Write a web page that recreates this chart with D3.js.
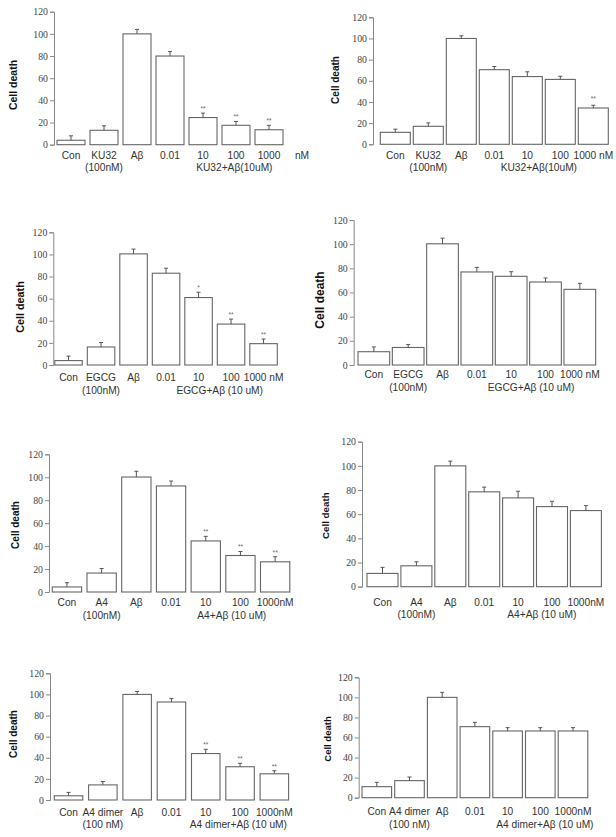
<!DOCTYPE html>
<html>
<head>
<meta charset="utf-8">
<script src="https://cdn.jsdelivr.net/npm/d3@7"></script>
<style>
  html, body { margin: 0; padding: 0; background: #fff; }
  svg { display: block; }
</style>
</head>
<body>
<svg id="chart" width="616" height="837"></svg>
<script>
// ---------- DATA ----------
const yTicks = [0, 20, 40, 60, 80, 100, 120];

const labelsKU1 = ["Con", "KU32", "Aβ", "0.01", "10", "100", "1000", "nM"];
const labelsKU2 = ["Con", "KU32", "Aβ", "0.01", "10", "100", "1000 nM"];
const labelsEGCG = ["Con", "EGCG", "Aβ", "0.01", "10", "100", "1000 nM"];
const labelsA4 = ["Con", "A4", "Aβ", "0.01", "10", "100", "1000nM"];
const labelsA4d = ["Con", "A4 dimer", "Aβ", "0.01", "10", "100", "1000nM"];

const subLabels = ["(100nM)", "(100nM)", "(100nM)", "(100nM)", "(100nM)", "(100nM)", "(100 nM)", "(100 nM)"];
const groupLabels = ["KU32+Aβ(10uM)", "KU32+Aβ(10uM)", "EGCG+Aβ (10 uM)", "EGCG+Aβ (10 uM)",
                     "A4+Aβ (10 uM)", "A4+Aβ (10 uM)", "A4 dimer+Aβ (10 uM)", "A4 dimer+Aβ (10 uM)"];

const values1 = [4, 13, 100, 80, 24.5, 17.5, 13.5];
const errors1 = [4, 4, 4, 4, 4, 3.5, 4];
const stars1  = ["", "", "", "", "**", "**", "**"];

const values2 = [11.3, 17, 100, 70.5, 64, 61.3, 34.3];
const errors2 = [3, 3.2, 2.5, 3, 4.5, 3, 2.6];
const stars2  = ["", "", "", "", "", "", "**"];

const values3 = [4, 16.3, 100.5, 83, 61, 37, 19.3];
const errors3 = [4, 4, 4.3, 4.5, 4.8, 4.5, 4.2];
const stars3  = ["", "", "", "", "*", "**", "**"];

const values4 = [11, 14.5, 100.3, 77, 73.4, 68.7, 62.6];
const errors4 = [4, 2.5, 4.7, 3.8, 3.8, 3.3, 5];
const stars4  = ["", "", "", "", "", "", ""];

const values5 = [4.4, 16.5, 100.2, 92.4, 44.5, 31.8, 26.3];
const errors5 = [3.7, 4, 5, 4.3, 4, 3.5, 4.4];
const stars5  = ["", "", "", "", "**", "**", "**"];

const values6 = [11, 17.3, 100, 78.5, 73.5, 66.3, 63];
const errors6 = [5, 3.3, 3.9, 3.9, 5.5, 4.4, 4.1];
const stars6  = ["", "", "", "", "", "", ""];

const values7 = [4, 14.3, 100, 92.8, 44, 31.5, 24.8];
const errors7 = [3.2, 3.2, 2.8, 3.2, 4, 3.2, 2.9];
const stars7  = ["", "", "", "", "**", "**", "**"];

const values8 = [11, 17, 100, 70.8, 66.5, 66.5, 66.5];
const errors8 = [4.3, 3.6, 5, 4.3, 3.3, 3.3, 3.3];
const stars8  = ["", "", "", "", "", "", ""];

const panelLabels = [labelsKU1, labelsKU2, labelsEGCG, labelsEGCG, labelsA4, labelsA4, labelsA4d, labelsA4d];
const panelValues = [values1, values2, values3, values4, values5, values6, values7, values8];
const panelErrors = [errors1, errors2, errors3, errors4, errors5, errors6, errors7, errors8];
const panelStars  = [stars1, stars2, stars3, stars4, stars5, stars6, stars7, stars8];

// ---------- LAYOUT (positions / sizes) ----------
const layouts = [
  {axisX: 54,    yTop: 11.7,  yBot: 144.7, bar0: 57,    step: 33,    width: 28,   l1: 14,   l2: 26,   g: 4.95, yl: [12.5, 85, 10.5]},
  {axisX: 373,   yTop: 17.3,  yBot: 144.3, bar0: 380.3, step: 33,    width: 30,   l1: 14.5, l2: 26.5, g: 4.35, yl: [335.5, 80, 10]},
  {axisX: 53.3,  yTop: 232.3, yBot: 365,   bar0: 54.8,  step: 32.5,  width: 27.5, l1: 15.5, l2: 28.5, g: 4.65, yl: [20, 307, 10.8]},
  {axisX: 353.7, yTop: 220,   yBot: 365,   bar0: 358,   step: 34.33, width: 31.7, l1: 12.5, l2: 25.5, g: 4.58, yl: [319.7, 300, 12]},
  {axisX: 49,    yTop: 454.3, yBot: 592,   bar0: 52.3,  step: 34.7,  width: 29.3, l1: 13.5, l2: 26.5, g: 4.75, yl: [15.8, 525, 10]},
  {axisX: 362,   yTop: 441.7, yBot: 586.7, bar0: 367,   step: 33.9,  width: 31,   l1: 18.8, l2: 30.8, g: 4.7,  yl: [325.5, 515.7, 9.8]},
  {axisX: 50,    yTop: 673.3, yBot: 800,   bar0: 54.3,  step: 34.3,  width: 28.5, l1: 15.5, l2: 27.5, g: 4.95, yl: [13.3, 734, 10]},
  {axisX: 358.7, yTop: 677.3, yBot: 797.7, bar0: 362,   step: 32.7,  width: 29.6, l1: 16.8, l2: 29.8, g: 5.14, yl: [327, 739, 9.5]}
];

const svg = d3.select("#chart");
const sans = "'Liberation Sans', Arial, sans-serif";
const serif = "'Liberation Serif', 'Times New Roman', serif";
const catSize = 10.2;

layouts.forEach((L, p) => {
  const vals = panelValues[p], errs = panelErrors[p], stars = panelStars[p];
  const labels = panelLabels[p];
  const nBars = vals.length;
  const idx = d3.range(nBars);

  const x = d3.scaleBand()
    .domain(idx)
    .range([L.bar0, L.bar0 + (nBars - 1) * L.step + L.width])
    .paddingInner(1 - L.width / L.step)
    .paddingOuter(0);
  const bw = x.bandwidth();
  const posAt = i => L.bar0 + i * L.step + bw / 2;

  const y = d3.scaleLinear().domain([0, 120]).range([L.yBot, L.yTop]);

  const g = svg.append("g");

  // y axis
  const ax = g.append("g")
    .attr("transform", `translate(${L.axisX},0)`)
    .call(d3.axisLeft(y).tickValues(yTicks).tickSize(4).tickPadding(2).tickFormat(d3.format("d")));
  ax.select(".domain").attr("stroke", "#888").attr("stroke-width", 1);
  ax.selectAll(".tick line").attr("stroke", "#888");
  ax.selectAll(".tick text")
    .attr("font-family", serif)
    .attr("font-size", 9.8)
    .attr("fill", "#444");

  // bars
  g.selectAll("rect.bar").data(idx).enter().append("rect")
    .attr("class", "bar")
    .attr("x", i => x(i))
    .attr("width", bw)
    .attr("y", i => y(vals[i]))
    .attr("height", i => y(0) - y(vals[i]))
    .attr("fill", "#fff")
    .attr("stroke", "#666")
    .attr("stroke-width", 1.1);

  // error bars
  const eb = g.selectAll("g.err").data(idx).enter().append("g").attr("class", "err");
  eb.append("line")
    .attr("x1", i => x(i) + bw / 2).attr("x2", i => x(i) + bw / 2)
    .attr("y1", i => y(vals[i])).attr("y2", i => y(vals[i] + errs[i]))
    .attr("stroke", "#555").attr("stroke-width", 1);
  eb.append("line")
    .attr("x1", i => x(i) + bw / 2 - 2).attr("x2", i => x(i) + bw / 2 + 2)
    .attr("y1", i => y(vals[i] + errs[i])).attr("y2", i => y(vals[i] + errs[i]))
    .attr("stroke", "#555").attr("stroke-width", 1);

  // significance stars
  g.selectAll("text.star").data(idx.filter(i => stars[i])).enter().append("text")
    .attr("class", "star")
    .attr("x", i => x(i) + bw / 2)
    .attr("y", i => y(vals[i] + errs[i]) - (p === 1 ? 4 : 2))
    .attr("text-anchor", "middle")
    .attr("font-family", sans)
    .attr("font-size", 6.5)
    .attr("fill", "#666")
    .text(i => stars[i]);

  // category labels
  g.selectAll("text.cat").data(labels).enter().append("text")
    .attr("class", "cat")
    .attr("x", (d, i) => posAt(i))
    .attr("y", L.yBot + L.l1)
    .attr("text-anchor", "middle")
    .attr("font-family", sans)
    .attr("font-size", catSize)
    .attr("fill", "#333")
    .text(d => d);

  // second line: sub label under index 1
  g.append("text")
    .attr("x", posAt(1))
    .attr("y", L.yBot + L.l2)
    .attr("text-anchor", "middle")
    .attr("font-family", sans)
    .attr("font-size", catSize)
    .attr("fill", "#333")
    .text(subLabels[p]);

  // group label
  g.append("text")
    .attr("x", posAt(L.g))
    .attr("y", L.yBot + L.l2)
    .attr("text-anchor", "middle")
    .attr("font-family", sans)
    .attr("font-size", catSize)
    .attr("fill", "#333")
    .text(groupLabels[p]);

  // y axis title
  g.append("text")
    .attr("transform", `translate(${L.yl[0]},${L.yl[1]}) rotate(-90)`)
    .attr("text-anchor", "middle")
    .attr("dominant-baseline", "central")
    .attr("font-family", sans)
    .attr("font-weight", "bold")
    .attr("font-size", L.yl[2])
    .attr("fill", "#111")
    .text("Cell death");
});
</script>
</body>
</html>
